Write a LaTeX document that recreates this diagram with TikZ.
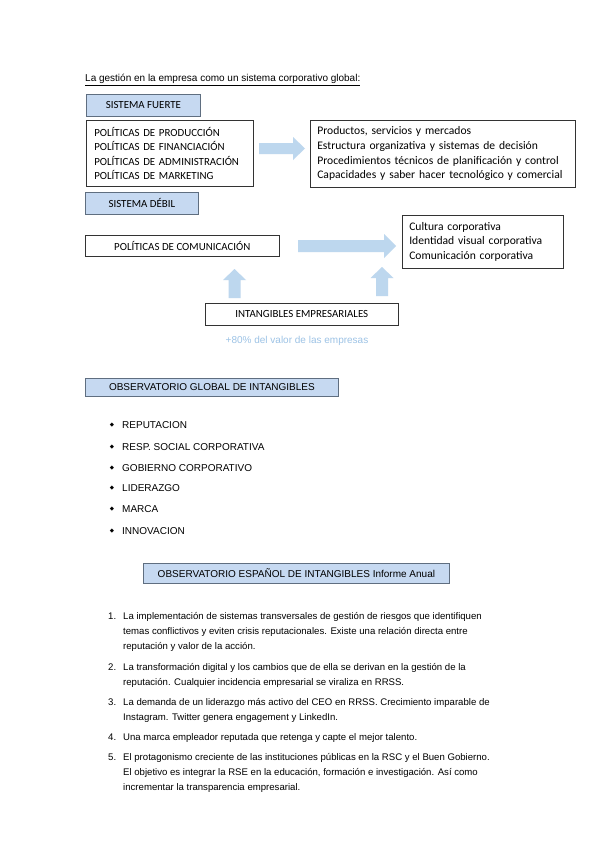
\documentclass[tikz,border=0pt]{standalone}
\usepackage{fontspec}
\setmainfont{Liberation Sans}
\newfontfamily\calib{Carlito}
\newfontfamily\symb{DejaVu Sans}
\usetikzlibrary{positioning}
\definecolor{boxblue}{HTML}{C6D9F1}
\definecolor{boxedge}{HTML}{5F6E80}
\definecolor{arrowblue}{HTML}{BDD7EE}
\definecolor{notetext}{HTML}{9DC3E6}

\tikzset{
  headbox/.style={draw=boxedge, fill=boxblue, line width=0.8pt, anchor=north west, inner sep=0pt},
  capsfont/.style={font=\calib\fontsize{10.9}{14.5}\selectfont},
  textfont/.style={font=\calib\fontsize{11.6}{14.6}\selectfont},
  plainbox/.style={draw=black!80, line width=0.6pt, anchor=north west, inner sep=0pt, capsfont},
  listbox/.style={draw=black!80, line width=0.6pt, anchor=north west, align=left, inner xsep=8pt, inner ysep=0pt},
  bigarrow/.style={fill=arrowblue},
  bullet/.style={font=\symb\fontsize{5.5}{6}\selectfont, inner sep=0pt},
  itemtext/.style={anchor=north west, inner sep=0pt, align=left, font=\fontsize{9.6}{15}\selectfont},
}

\begin{document}
\begin{tikzpicture}[x=1pt, y=-1pt, font=\fontsize{10}{15}\selectfont]
  \useasboundingbox (0,0) rectangle (599,848);
  \fill[white] (0,0) rectangle (599,848);

  % titulo
  \node[anchor=base west, inner sep=0pt] (titulo) at (85,81.5)
    {\underline{La gestión en la empresa como un sistema corporativo global:}};

  % sistema fuerte
  \node[headbox, capsfont, minimum width=114pt, minimum height=22pt] (fuerte) at (86,94) {SISTEMA FUERTE};
  \node[listbox, capsfont, text width=151pt, minimum height=66pt] (politicas) at (86,120)
    {POLÍTICAS DE PRODUCCIÓN\\POLÍTICAS DE FINANCIACIÓN\\POLÍTICAS DE ADMINISTRACIÓN\\POLÍTICAS DE MARKETING};
  \node[listbox, textfont, inner xsep=7pt, text width=251pt, minimum height=67pt] (productos) at (310,120)
    {Productos, servicios y mercados\\Estructura organizativa y sistemas de decisión\\Procedimientos técnicos de planificación y control\\Capacidades y saber hacer tecnológico y comercial};
  \fill[bigarrow] (259,143) -- (293,143) -- (293,137) -- (305,148.5) -- (293,160) -- (293,154) -- (259,154) -- cycle;

  % sistema debil
  \node[headbox, capsfont, minimum width=113pt, minimum height=22pt] (debil) at (85,192) {SISTEMA DÉBIL};
  \node[plainbox, minimum width=194pt, minimum height=21pt] (comunicacion) at (85,235) {POLÍTICAS DE COMUNICACIÓN};
  \node[listbox, textfont, inner xsep=7pt, text width=147pt, minimum height=53pt] (cultura) at (402,215)
    {Cultura corporativa\\Identidad visual corporativa\\Comunicación corporativa};
  \fill[bigarrow] (298,240) -- (384,240) -- (384,234) -- (396,246) -- (384,258) -- (384,252) -- (298,252) -- cycle;

  % intangibles
  \node[plainbox, minimum width=193pt, minimum height=22pt] (intangibles) at (205,303) {INTANGIBLES EMPRESARIALES};
  \fill[bigarrow] (228.5,298) -- (228.5,280) -- (223,280) -- (234.5,269) -- (246,280) -- (240.5,280) -- (240.5,298) -- cycle;
  \fill[bigarrow] (376,296) -- (376,278) -- (370.5,278) -- (382,267) -- (393.5,278) -- (388,278) -- (388,296) -- cycle;
  \node[text=notetext, inner sep=0pt] (valor) at (297,341) {+80\% del valor de las empresas};

  % observatorio global
  \node[headbox, minimum width=253pt, minimum height=18pt] (global) at (85,378) {OBSERVATORIO GLOBAL DE INTANGIBLES};
  \foreach \y/\t [count=\i] in {425/REPUTACION, 447/RESP. SOCIAL CORPORATIVA, 468/GOBIERNO CORPORATIVO,
                                488/LIDERAZGO, 509/MARCA, 531/INNOVACION} {
    \node[bullet] (b\i) at (112,\y) {◆};
    \node[anchor=base west, inner sep=0pt] (t\i) at (122,\y+3.5) {\t};
  }

  % observatorio espanol
  \node[headbox, minimum width=306pt, minimum height=20pt] (espanol) at (143,563)
    {OBSERVATORIO ESPAÑOL DE INTANGIBLES Informe Anual};

  \node[anchor=base west, inner sep=0pt, font=\fontsize{9.6}{15}\selectfont] (n1) at (108,619.5) {1.};
  \node[itemtext] (i1) at (123,609) {\strut La implementación de sistemas transversales de gestión de riesgos que identifiquen\\
    temas conflictivos y eviten crisis reputacionales. Existe una relación directa entre\\
    reputación y valor de la acción.};
  \node[anchor=base west, inner sep=0pt, font=\fontsize{9.6}{15}\selectfont] (n2) at (108,670.5) {2.};
  \node[itemtext] (i2) at (123,660) {\strut La transformación digital y los cambios que de ella se derivan en la gestión de la\\
    reputación. Cualquier incidencia empresarial se viraliza en RRSS.};
  \node[anchor=base west, inner sep=0pt, font=\fontsize{9.6}{15}\selectfont] (n3) at (108,705.5) {3.};
  \node[itemtext] (i3) at (123,695) {\strut La demanda de un liderazgo más activo del CEO en RRSS. Crecimiento imparable de\\
    Instagram. Twitter genera engagement y LinkedIn.};
  \node[anchor=base west, inner sep=0pt, font=\fontsize{9.6}{15}\selectfont] (n4) at (108,740.5) {4.};
  \node[itemtext] (i4) at (123,730) {\strut Una marca empleador reputada que retenga y capte el mejor talento.};
  \node[anchor=base west, inner sep=0pt, font=\fontsize{9.6}{15}\selectfont] (n5) at (108,760.5) {5.};
  \node[itemtext] (i5) at (123,750) {\strut El protagonismo creciente de las instituciones públicas en la RSC y el Buen Gobierno.\\
    El objetivo es integrar la RSE en la educación, formación e investigación. Así como\\
    incrementar la transparencia empresarial.};
\end{tikzpicture}
\end{document}
